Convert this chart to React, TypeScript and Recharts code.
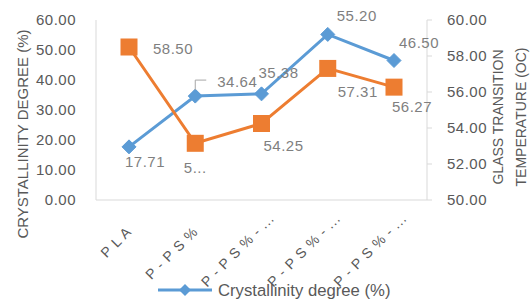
import React from "react";
import { LineChart, Line, XAxis, YAxis, Legend } from "recharts";

const categories = ["P L A", "P - P S %", "P - P S % - ...", "P - P S % - ...", "P - P S % - ..."];
const crystallinity = [17.71, 34.64, 35.38, 55.2, 46.5];
const glassTransition = [58.5, 53.15, 54.25, 57.31, 56.27];
const glassLabels = ["58.50", "5...", "54.25", "57.31", "56.27"];
const leftTicks = [0, 10, 20, 30, 40, 50, 60];
const rightTicks = [50, 52, 54, 56, 58, 60];

// label offsets from each point (dx, dy)
const blueLabelPos = [
  [16, 15],
  [42, -15],
  [17, -21],
  [29, -19],
  [25, -18],
];
const orangeLabelPos = [
  [44, 1],
  [0, 24],
  [22, 22],
  [30, 23],
  [18, 19],
];

const data = categories.map((name, i) => ({
  name,
  crystallinity: crystallinity[i],
  tg: glassTransition[i],
}));

const BLUE = "#5B9BD5";
const ORANGE = "#ED7D31";
const AXIS = "#D9D9D9";
const TEXT = "#595959";
const LABEL = "#7F7F7F";
const FONT = "'Liberation Sans', Arial, sans-serif";

const Diamond = (props: any) => {
  const { cx, cy } = props;
  if (cx == null || cy == null) return null;
  const r = 7;
  return (
    <polygon
      points={`${cx},${cy - r} ${cx + r},${cy} ${cx},${cy + r} ${cx - r},${cy}`}
      fill={BLUE}
      stroke={BLUE}
    />
  );
};

const Square = (props: any) => {
  const { cx, cy } = props;
  if (cx == null || cy == null) return null;
  return <rect x={cx - 8.5} y={cy - 8.5} width={17} height={17} fill={ORANGE} />;
};

const blueLabel = (props: any) => {
  const { x, y, index, value } = props;
  const [dx, dy] = blueLabelPos[index];
  return (
    <g>
      {index === 1 && (
        <polyline
          points={`${x},${y - 6} ${x},${y - 16} ${x + 11},${y - 16}`}
          fill="none"
          stroke="#A6A6A6"
          strokeWidth={1}
        />
      )}
      <text
        x={x + dx}
        y={y + dy}
        textAnchor="middle"
        dominantBaseline="central"
        fill={LABEL}
        fontSize={15}
        letterSpacing={0.5}
        fontFamily={FONT}
      >
        {Number(value).toFixed(2)}
      </text>
    </g>
  );
};

const orangeLabel = (props: any) => {
  const { x, y, index } = props;
  const [dx, dy] = orangeLabelPos[index];
  return (
    <text
      x={x + dx}
      y={y + dy}
      textAnchor="middle"
      dominantBaseline="central"
      fill={LABEL}
      fontSize={15}
      letterSpacing={0.5}
      fontFamily={FONT}
    >
      {glassLabels[index]}
    </text>
  );
};

const CategoryTick = (props: any) => {
  const { x, payload } = props;
  const truncated = String(payload.value).endsWith("...");
  const ex = truncated ? x + 10 : x;
  const ey = truncated ? 216 : 229;
  return (
    <g transform={`translate(${ex},${ey})`}>
      <text
        textAnchor="end"
        transform="rotate(-45)"
        fill={TEXT}
        fontSize={14}
        letterSpacing={0.8}
        fontFamily={FONT}
        dominantBaseline="central"
      >
        {payload.value}
      </text>
    </g>
  );
};

const LegendContent = () => (
  <svg width={532} height={20}>
    <line x1={158} y1={10} x2={212} y2={10} stroke={BLUE} strokeWidth={3} />
    <polygon points="185,4 191,10 185,16 179,10" fill={BLUE} />
    <text x={218} y={10} dominantBaseline="central" fill={TEXT} fontSize={16.7} fontFamily={FONT}>
      Crystallinity degree (%)
    </text>
  </svg>
);

export default function App() {
  return (
    <div style={{ position: "absolute", left: 0, top: 0, width: 532, height: 302, background: "#fff", overflow: "hidden" }}>
      <LineChart width={532} height={302} data={data} margin={{ top: 20, right: 30, left: 30, bottom: 0 }}>
        <XAxis
          dataKey="name"
          height={102}
          padding={{ left: 33, right: 33 }}
          stroke={AXIS}
          tickLine={false}
          tick={<CategoryTick />}
          interval={0}
        />
        <YAxis
          yAxisId="left"
          width={66}
          domain={[0, 60]}
          ticks={leftTicks}
          tickFormatter={(v: number) => v.toFixed(2)}
          stroke={AXIS}
          tickLine={false}
          tickMargin={14}
          tick={{ fill: TEXT, fontSize: 15, fontFamily: FONT, letterSpacing: 0.5 }}
          label={{
            content: () => (
              <text
                transform="translate(22,134) rotate(-90)"
                textAnchor="middle"
                dominantBaseline="central"
                fill={TEXT}
                fontSize={15}
                fontFamily={FONT}
              >
                CRYSTALLINITY DEGREE (%)
              </text>
            ),
          }}
        />
        <YAxis
          yAxisId="right"
          orientation="right"
          width={75}
          domain={[50, 60]}
          ticks={rightTicks}
          tickFormatter={(v: number) => v.toFixed(2)}
          stroke={AXIS}
          tickSize={5}
          tickMargin={15}
          tick={{ fill: TEXT, fontSize: 15, fontFamily: FONT, letterSpacing: 0.5 }}
          label={{
            content: () => (
              <g>
                <text
                  transform="translate(498,117) rotate(-90)"
                  textAnchor="middle"
                  dominantBaseline="central"
                  fill={TEXT}
                  fontSize={14}
                  fontFamily={FONT}
                >
                  GLASS TRANSITION
                </text>
                <text
                  transform="translate(521,117) rotate(-90)"
                  textAnchor="middle"
                  dominantBaseline="central"
                  fill={TEXT}
                  fontSize={14}
                  fontFamily={FONT}
                >
                  TEMPERATURE (OC)
                </text>
              </g>
            ),
          }}
        />
        <Line
          yAxisId="left"
          dataKey="crystallinity"
          stroke={BLUE}
          strokeWidth={3}
          dot={<Diamond />}
          activeDot={false}
          label={blueLabel}
          isAnimationActive={false}
        />
        <Line
          yAxisId="right"
          dataKey="tg"
          stroke={ORANGE}
          strokeWidth={3}
          dot={<Square />}
          activeDot={false}
          label={orangeLabel}
          isAnimationActive={false}
        />
        <Legend
          verticalAlign="middle"
          align="center"
          layout="horizontal"
          content={<LegendContent />}
          wrapperStyle={{ top: 280, left: 0, width: 532 }}
        />
      </LineChart>
    </div>
  );
}
